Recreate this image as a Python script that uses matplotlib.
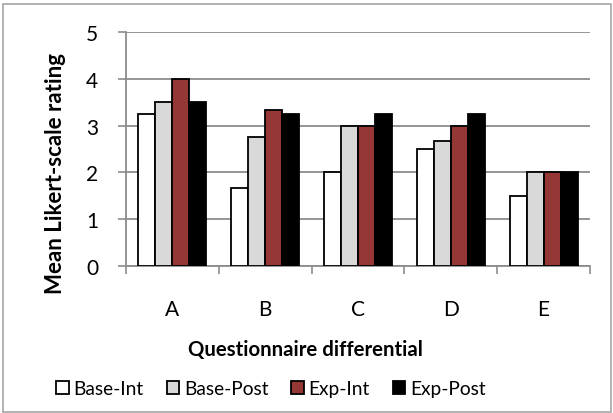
import numpy as np
import matplotlib.pyplot as plt
from matplotlib.patches import Rectangle

# mean ratings per questionnaire differential
categories = ['A', 'B', 'C', 'D', 'E']
base_int = [3.25, 1.67, 2.0, 2.5, 1.5]
base_post = [3.5, 2.75, 3.0, 2.67, 2.0]
exp_int = [4.0, 3.33, 3.0, 3.0, 2.0]
exp_post = [3.5, 3.25, 3.25, 3.25, 2.0]

series = [('Base-Int', base_int, '#FFFFFF'),
          ('Base-Post', base_post, '#D9D9D9'),
          ('Exp-Int', exp_int, '#953735'),
          ('Exp-Post', exp_post, '#000000')]

plt.rcParams['font.family'] = ['Lato', 'DejaVu Sans']
grid_col = '#8C8C8C'

fig = plt.figure(figsize=(6.13, 4.14), dpi=100)
ax = fig.add_axes([126 / 613, 1 - 267 / 414, 464 / 613, 234 / 414])

x = np.arange(len(categories))
w = 0.183
for i, (name, vals, col) in enumerate(series):
    ax.bar(x + (i - 1.5) * w, vals, w, color=col, edgecolor='black',
           linewidth=1.3, label=name, zorder=3)

ax.set_xlim(-0.5, len(categories) - 0.5)
ax.set_ylim(0, 5)
ax.set_yticks(range(6))
ax.yaxis.grid(True, color=grid_col, linewidth=1.3, zorder=0)

# category boundaries carry the tick marks, labels sit in between
ax.set_xticks(np.arange(-0.5, len(categories)), minor=False)
ax.set_xticklabels([])
ax.set_xticks(x, minor=True)
ax.set_xticklabels(categories, minor=True, fontsize=15)
ax.tick_params(axis='x', which='major', length=6, width=1.2, color=grid_col)
ax.tick_params(axis='x', which='minor', length=0, pad=24)
ax.tick_params(axis='y', length=6, width=1.2, color=grid_col, pad=14,
               labelsize=15)

for s in ['top', 'right']:
    ax.spines[s].set_visible(False)
for s in ['left', 'bottom']:
    ax.spines[s].set_color(grid_col)
    ax.spines[s].set_linewidth(1.3)

fig.text(305 / 613, 1 - 350 / 414, 'Questionnaire differential',
         ha='center', va='center', fontsize=14.7, fontweight='bold')
fig.text(55 / 613, 1 - 173 / 414, 'Mean Likert-scale rating',
         ha='center', va='center', rotation=90, fontsize=16,
         fontweight='bold')

handles, labels = ax.get_legend_handles_labels()
fig.legend(handles, labels, loc='center', ncol=4,
           bbox_to_anchor=(271 / 613, 1 - 390 / 414), frameon=False,
           fontsize=13.8, handlelength=0.65, handleheight=0.65,
           handletextpad=0.25, columnspacing=1.2)

# light chart-area border
fig.patches.append(Rectangle((3 / 613, 1 / 414), 608 / 613, 408 / 414,
                             transform=fig.transFigure, fill=False,
                             edgecolor='#A6A6A6', linewidth=1.2))

fig.savefig('out.png', dpi=100)
